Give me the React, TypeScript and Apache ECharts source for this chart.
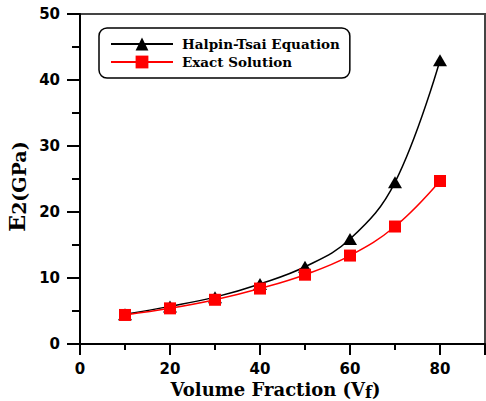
import React, { useEffect, useRef } from "react";
import * as echarts from "echarts";

const volumeFraction = [10, 20, 30, 40, 50, 60, 70, 80];
const halpinTsai = [4.5, 5.7, 7.1, 9.1, 11.7, 15.9, 24.5, 43.0];
const exactSolution = [4.4, 5.4, 6.7, 8.4, 10.5, 13.4, 17.8, 24.7];
const seriesNames = ["Halpin-Tsai Equation", "Exact Solution"];

const SERIF = "'DejaVu Serif', 'Liberation Serif', serif";

export default function App() {
  const ref = useRef<HTMLDivElement>(null);
  useEffect(() => {
    if (!ref.current) return;
    const chart = echarts.init(ref.current, undefined, { renderer: "svg" });
    const tickFont = { fontFamily: "DejaVu Sans", fontWeight: "bold" as const, fontSize: 15, color: "#000" };
    chart.setOption({
      animation: false,
      backgroundColor: "#fff",
      grid: {
        left: 80, right: 1, top: 14, bottom: 57,
        outerBoundsMode: "none",
        containLabel: false,
        show: true, borderColor: "#444", borderWidth: 2, backgroundColor: "transparent",
      },
      legend: {
        show: true,
        orient: "vertical",
        left: 99, top: 28,
        padding: [9, 10, 9, 11],
        itemWidth: 62, itemHeight: 16, itemGap: 4,
        borderColor: "#000", borderWidth: 1.5, borderRadius: 8,
        backgroundColor: "#fff",
        textStyle: { fontFamily: SERIF, fontWeight: "bold", fontSize: 13.5, color: "#000", padding: [0, 0, 0, 4] },
        data: seriesNames,
      },
      xAxis: {
        type: "value",
        min: 0, max: 90, interval: 20,
        name: "Volume Fraction (V{sub|f})",
        nameLocation: "middle",
        nameGap: 27,
        nameTextStyle: {
          fontFamily: SERIF, fontWeight: "bold", fontSize: 18, color: "#000",
          padding: [0, 14, 0, 0],
          rich: { sub: { fontFamily: SERIF, fontWeight: "bold", fontSize: 16, color: "#000", padding: [5, 0, 0, 0] } },
        },
        axisLine: { show: true, onZero: false, lineStyle: { color: "#000", width: 2 } },
        axisTick: { show: true, inside: false, length: 11, lineStyle: { color: "#000", width: 2 } },
        minorTick: { show: true, splitNumber: 2, length: 6, lineStyle: { color: "#000", width: 2 } },
        axisLabel: { ...tickFont, margin: 17, formatter: (v: number) => (v > 80 ? "" : String(v)) },
        splitLine: { show: false },
      },
      yAxis: {
        type: "value",
        min: 0, max: 50, interval: 10,
        name: "E{sub|2(GPa)}",
        nameLocation: "middle",
        nameGap: 47,
        nameTextStyle: {
          fontFamily: SERIF, fontWeight: "bold", fontSize: 22, color: "#000",
          padding: [0, 15, 0, 0],
          rich: { sub: { fontFamily: SERIF, fontWeight: "bold", fontSize: 19, color: "#000", padding: [4, 0, 0, 0] } },
        },
        axisLine: { show: true, onZero: false, lineStyle: { color: "#000", width: 2 } },
        axisTick: { show: true, inside: false, length: 13, lineStyle: { color: "#000", width: 2 } },
        minorTick: { show: true, splitNumber: 2, length: 8, lineStyle: { color: "#000", width: 2 } },
        axisLabel: { ...tickFont, margin: 20 },
        splitLine: { show: false },
      },
      series: [
        {
          name: seriesNames[0],
          type: "line",
          data: volumeFraction.map((x, i) => [x, halpinTsai[i]]),
          smooth: 0.4,
          symbol: "triangle",
          symbolSize: [14, 12],
          lineStyle: { color: "#000", width: 1.5 },
          itemStyle: { color: "#000" },
          z: 3,
        },
        {
          name: seriesNames[1],
          type: "line",
          data: volumeFraction.map((x, i) => [x, exactSolution[i]]),
          smooth: 0.4,
          symbol: "rect",
          symbolSize: 12,
          lineStyle: { color: "#ff0000", width: 1.5 },
          itemStyle: { color: "#ff0000" },
          z: 4,
        },
      ],
    });
    return () => chart.dispose();
  }, []);
  return <div ref={ref} style={{ width: 486, height: 401, position: "absolute", left: 0, top: 0 }} />;
}
